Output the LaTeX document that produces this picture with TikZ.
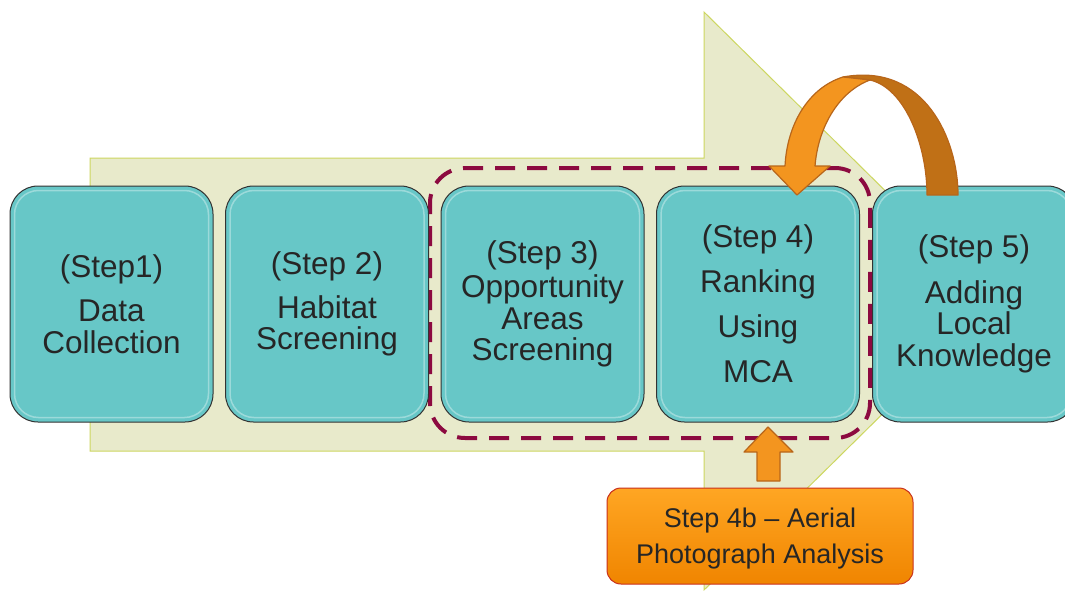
\documentclass[tikz,border=0pt]{standalone}
\usepackage{fontspec}
\setmainfont{Liberation Sans}
\definecolor{arrowfill}{HTML}{E8EACB}
\definecolor{arrowline}{HTML}{CDD760}
\definecolor{stepfill}{HTML}{67C7C7}
\definecolor{dashcol}{HTML}{8C0A40}
\definecolor{orangeL}{HTML}{F3951F}
\definecolor{orangeD}{HTML}{C07016}
\definecolor{orangeEdge}{HTML}{B8661A}
\definecolor{boxTop}{HTML}{FFA623}
\definecolor{boxBot}{HTML}{F08500}
\definecolor{boxEdge}{HTML}{C9301C}
\definecolor{txt}{HTML}{262626}
\tikzset{
  stepbox/.style={draw=black!80, line width=1pt, fill=stepfill, rounded corners=28pt,
    minimum width=203pt, minimum height=236pt, align=center, inner sep=0pt,
    font=\fontsize{31.5}{31.5}\selectfont, text=txt},
  gloss/.style={draw=white, opacity=0.35, line width=1.5pt, rounded corners=24pt},
  groupbox/.style={draw=dashcol, line width=4pt, dash pattern=on 20pt off 12pt,
    rounded corners=35pt, minimum width=440pt, minimum height=270pt, inner sep=0pt},
  subbox/.style={draw=boxEdge, line width=1pt, top color=boxTop, bottom color=boxBot,
    rounded corners=14pt, minimum width=306pt, minimum height=96pt, align=center,
    inner sep=0pt, font=\fontsize{27}{36}\selectfont, text=txt},
  orangearrow/.style={draw=orangeEdge, line width=1.2pt, line join=round}
}
\begin{document}
\begin{tikzpicture}[x=1pt,y=-1pt]
\path[use as bounding box, clip] (0,0) rectangle (1065,590);
\fill[white] (0,0) rectangle (1065,590);
% big background arrow
\draw[fill=arrowfill, draw=arrowline, line width=1pt]
  (90,158) -- (704,158) -- (704,12) -- (997,301) -- (704,590) -- (704,451) -- (90,451) -- cycle;
% dashed group
\node[groupbox] (grp) at (650,303) {};
% step boxes
\node[stepbox] (s1) at (111.5,304) {(Step1)\\[12.5pt]Data\\Collection};
\node[stepbox] (s2) at (327,304) {(Step 2)\\[12.5pt]Habitat\\Screening};
\node[stepbox] (s3) at (542.5,304) {(Step 3)\\[2.5pt]Opportunity\\Areas\\Screening};
\node[stepbox] (s4) at (758,304) {(Step 4)\\[13.5pt]Ranking\\[13.5pt]Using\\[13.5pt]MCA};
\node[stepbox] (s5) at (974,304) {(Step 5)\\[14pt]Adding\\Local\\Knowledge};
\foreach \n in {s1,s2,s3,s4,s5}{
  \draw[gloss] ([xshift=5pt,yshift=-5pt]\n.north west) rectangle ([xshift=-5pt,yshift=5pt]\n.south east);
}
% curved feedback arrow (step 5 -> step 4)
\coordinate (fbstart) at (942.5,195);
\coordinate (fbtip) at (797,195);
\draw[orangearrow, fill=orangeD]
  (843,77) .. controls (925,62) and (958,140) .. (958,195) -- (927,195)
  .. controls (927,145) and (905,88) .. (870,80) -- cycle;
\draw[orangearrow, fill=orangeL]
  (843,77) .. controls (808,88) and (787,125) .. (785,166) -- (769,166) -- (fbtip)
  -- (830,166) -- (815,166) .. controls (818,128) and (838,92) .. (870,80) -- cycle;
% sub step box
\node[subbox] (s4b) at (760,536) {};
\node[font=\fontsize{27}{36}\selectfont, text=txt, align=center, inner sep=0pt]
  (s4btext) at (760,539) {Step 4b -- Aerial\\Photograph Analysis};
% up arrow from 4b to step 4
\coordinate (uptip) at (768,427);
\draw[orangearrow, fill=orangeL]
  (757,481) -- (757,452) -- (744,452) -- (uptip) -- (793,452) -- (780,452) -- (780,481) -- cycle;
\end{tikzpicture}
\end{document}
